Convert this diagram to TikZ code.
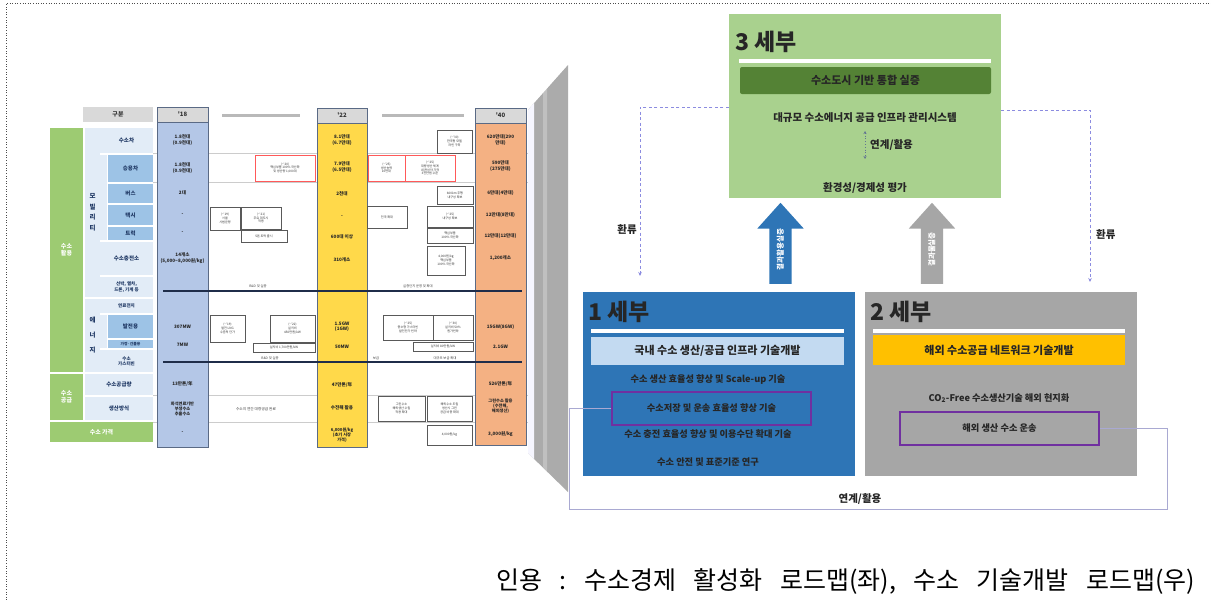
\documentclass[tikz,border=0pt]{standalone}
\usepackage{fontspec}
\newfontfamily\kr{Noto Sans CJK KR}
\usetikzlibrary{arrows.meta,shapes.arrows}
\definecolor{g3}{HTML}{A9D18E}
\definecolor{g3d}{HTML}{548235}
\definecolor{b1}{HTML}{2E75B6}
\definecolor{b1l}{HTML}{C3DAF1}
\definecolor{gr2}{HTML}{A6A6A6}
\definecolor{yel}{HTML}{FFC000}
\definecolor{purp}{HTML}{7030A0}
\definecolor{dashc}{HTML}{8C8CE0}
\definecolor{linkc}{HTML}{A9A9D2}
\definecolor{tgreen}{HTML}{9DCB72}
\definecolor{col18}{HTML}{B4C7E7}
\definecolor{col22}{HTML}{FFD94A}
\definecolor{col40}{HTML}{F4B183}
\definecolor{hdr}{HTML}{D9D9D9}
\definecolor{cellL}{HTML}{E2ECF7}
\definecolor{cellM}{HTML}{9DC3E6}
\definecolor{navyT}{HTML}{1F3864}
\definecolor{colborder}{HTML}{5A6A85}
\definecolor{navyL}{HTML}{1F2D4A}
\definecolor{trapg}{HTML}{ABABAB}
\newcommand\fs[2]{\fontsize{#1}{#2}\selectfont}
\newcommand\tld{\textasciitilde}
\newcommand\wsp{\hspace{0.7em}}
\newcommand\mkbox[7][sbox]{\node[#1,minimum width={#5-#3},minimum height={#6-#4}] (#2) at ({(#3+#5)/2},{(#4+#6)/2}) {#7};}
\tikzset{
 sbox/.style={draw=gray!70!black, line width=0.35pt, fill=white, inner sep=0.3pt, align=center, font=\kr\fs{3.1}{3.7}, text=black!80},
 rbox/.style={sbox, draw=red!65},
 dat/.style={font=\kr\bfseries\fs{4.6}{5.4}, align=center, text=black!85, inner sep=0},
 tiny/.style={font=\kr\fs{3.3}{3.8}, align=center, text=black!75, inner sep=0},
 lcell/.style={fill=cellL, inner sep=0, align=center, font=\kr\bfseries\fs{5.5}{6.5}, text=navyT},
 mcell/.style={fill=cellM, inner sep=0, align=center, font=\kr\bfseries\fs{5.5}{6.5}, text=navyT},
 gcell/.style={fill=tgreen, inner sep=0, align=center, font=\kr\bfseries\fs{6}{7.5}, text=white},
 hcell/.style={fill=hdr, inner sep=0, font=\kr\bfseries\fs{6}{6}, text=black!80},
 colbody/.style={draw=colborder, line width=0.8pt, inner sep=0},
 colhead/.style={colbody, fill=hdr, font=\kr\bfseries\fs{6}{6}, text=black!80},
 tline/.style={draw=gray!40, line width=0.4pt},
 bline/.style={draw=navyL, line width=1.3pt},
 bigbox/.style={inner sep=0, minimum width=272pt, minimum height=184pt},
 sehead/.style={anchor=west, inner sep=0, font=\kr\bfseries\fs{23}{23}, text=black!85},
 bar/.style={inner sep=0, font=\kr\bfseries\fs{11}{11}, text=black!85},
 btxt/.style={inner sep=0, font=\kr\bfseries\fs{9.2}{9.2}, text=black!85},
 gtxt/.style={inner sep=0, font=\kr\bfseries\fs{10.5}{10.5}, text=black!85},
 pbox/.style={draw=purp, line width=1.2pt, inner sep=0, minimum width=199pt, minimum height=33pt, font=\kr\bfseries\fs{9.2}{9.2}, text=black!85},
 uparrow/.style={single arrow, rotate=90, single arrow head extend=12pt, single arrow tip angle=84, minimum height=81pt, inner xsep=2pt, inner ysep=7pt, text height=6.5pt, text depth=1.5pt, font=\kr\bfseries\fs{7.5}{7.5}, text=white},
 dconn/.style={draw=dashc, line width=0.9pt, dash pattern=on 3pt off 2.5pt, -{Stealth[length=4pt,width=3.5pt]}},
 lconn/.style={draw=linkc, line width=0.9pt},
 lab/.style={inner sep=0, font=\kr\bfseries\fs{10.5}{10.5}, text=black!85},
 framedot/.style={draw=black!70, line width=0.6pt, dotted}
}
\begin{document}
\begin{tikzpicture}[x=1pt,y=-1pt]
\useasboundingbox (0,0) rectangle (1211,600);
\fill[white] (0,0) rectangle (1211,600);
\draw[framedot] (6,600) -- (6,3) -- (1211,3);

% ---------------- left roadmap table ----------------
\foreach \yy in {153,182,395,422} \draw[tline] (153,\yy) -- (528,\yy);
\draw[line width=3pt, gray!55] (222,115) -- (300,115);
\draw[line width=3pt, gray!55] (382,115) -- (464,115);

\mkbox[gcell]{gA}{50}{128}{83}{372}{수소\\활용}
\mkbox[gcell]{gB}{50}{374}{83}{420}{수소\\공급}
\mkbox[gcell,font={\kr\bfseries\fs{6}{6}}]{gC}{50}{422}{153}{442}{수소 가격}
\mkbox[hcell]{hG}{83}{107}{153}{122}{구분}
\mkbox[lcell,font={\kr\bfseries\fs{6.5}{10.5}}]{lMob}{85}{128}{100}{297}{모\\빌\\리\\티}
\mkbox[lcell,font={\kr\bfseries\fs{6.5}{15}}]{lEn}{85}{299}{100}{372}{에\\너\\지}
\mkbox[lcell]{rCar}{100}{128}{153}{153}{수소차}
\mkbox[lcell]{ind1}{100}{155}{107}{240}{}
\mkbox[mcell]{rPas}{108}{155}{153}{182}{승용차}
\mkbox[mcell]{rBus}{108}{184}{153}{203}{버스}
\mkbox[mcell]{rTaxi}{108}{205}{153}{225}{택시}
\mkbox[mcell]{rTruck}{108}{227}{153}{240}{트럭}
\mkbox[lcell]{rSt}{100}{242}{153}{275}{수소충전소}
\mkbox[lcell,font={\kr\bfseries\fs{4.5}{5.3}}]{rEtc}{100}{277}{153}{297}{선박, 열차,\\드론, 기계 등}
\mkbox[lcell,font={\kr\bfseries\fs{4.5}{5}}]{rFC}{100}{299}{153}{313}{연료전지}
\mkbox[lcell]{ind2}{100}{315}{107}{348}{}
\mkbox[mcell]{rPow}{108}{315}{153}{338}{발전용}
\mkbox[mcell,font={\kr\bfseries\fs{3.8}{4}}]{rHome}{108}{340}{153}{348}{가정·건물용}
\mkbox[lcell,font={\kr\bfseries\fs{4.5}{5.2}}]{rGT}{100}{350}{153}{372}{수소\\가스터빈}
\mkbox[lcell]{rSup}{85}{374}{153}{395}{수소공급량}
\mkbox[lcell]{rProd}{85}{397}{153}{420}{생산방식}

\mkbox[colbody,fill=col18]{c18}{157}{122}{208}{447}{}
\mkbox[colhead]{h18}{157}{107}{208}{122}{'18}
\mkbox[colbody,fill=col22]{c22}{317}{123}{367}{447}{}
\mkbox[colhead]{h22}{317}{108}{367}{123}{'22}
\mkbox[colbody,fill=col40]{c40}{475}{123}{526}{445}{}
\mkbox[colhead]{h40}{475}{108}{526}{123}{'40}

\node[dat] (d18a) at (182.5,140) {1.8천대\\(0.9천대)};
\node[dat] (d18b) at (182.5,168) {1.8천대\\(0.9천대)};
\node[dat] (d18c) at (182.5,193) {2대};
\node[dat] (d18d) at (182.5,215) {-};
\node[dat] (d18e) at (182.5,233) {-};
\node[dat] (d18f) at (182.5,258) {14개소\\(5,000\tld8,000원/kg)};
\node[dat] (d18g) at (182.5,327) {307MW};
\node[dat] (d18h) at (182.5,345) {7MW};
\node[dat] (d18i) at (182.5,384) {13만톤/年};
\node[dat,font={\kr\bfseries\fs{4.2}{5}}] (d18j) at (182.5,409) {화석연료기반\\부생수소\\추출수소};
\node[dat] (d18k) at (182.5,433) {-};

\node[dat] (d22a) at (342,140) {8.1만대\\(6.7만대)};
\node[dat] (d22b) at (342,167) {7.9만대\\(6.5만대)};
\node[dat] (d22c) at (342,194) {2천대};
\node[dat] (d22d) at (342,217) {-};
\node[dat] (d22e) at (342,237) {600대 이상};
\node[dat] (d22f) at (342,260) {310개소};
\node[dat] (d22g) at (342,327) {1.5GW\\(1GW)};
\node[dat] (d22h) at (342,347) {50MW};
\node[dat] (d22i) at (342,385) {47만톤/年};
\node[dat] (d22j) at (342,408) {수전해 활용};
\node[dat,font={\kr\bfseries\fs{4.2}{5}}] (d22k) at (342,435) {6,000원/kg\\(초기 시장\\가격)};

\node[dat] (d40a) at (500.5,140) {620만대(290\\만대)};
\node[dat] (d40b) at (500.5,166) {590만대\\(275만대)};
\node[dat] (d40c) at (500.5,193) {6만대(4만대)};
\node[dat] (d40d) at (500.5,215) {12만대(8만대)};
\node[dat] (d40e) at (500.5,236) {12만대(12만대)};
\node[dat] (d40f) at (500.5,258) {1,200개소};
\node[dat] (d40g) at (500.5,327) {15GW(8GW)};
\node[dat] (d40h) at (500.5,347) {2.1GW};
\node[dat] (d40i) at (500.5,384) {526만톤/年};
\node[dat,font={\kr\bfseries\fs{4.2}{5}}] (d40j) at (500.5,406) {그린수소 활용\\(수전해,\\해외생산)};
\node[dat] (d40k) at (500.5,434) {3,000원/kg};

\draw[bline] (163,291) -- (522,291);
\draw[bline] (163,362) -- (522,362);
\node[tiny] (lb1) at (258,286) {R\&D 및 실증};
\node[tiny] (lb2) at (418,286) {실증단지 운영 및 확대};
\node[tiny] (lb3) at (270,358) {R\&D 및 실증};
\node[tiny] (lb4) at (376,358) {보급};
\node[tiny] (lb5) at (445,358) {대규모 보급 확대};
\node[tiny,font={\kr\fs{3.7}{4}}] (lb6) at (256,409) {수소의 연간 대량공급 완료};

\mkbox[rbox]{bx1}{255}{155}{315}{181}{(\tld'20)\\핵심부품 100\% 국산화\\및 생산량 1,000대}
\mkbox{bx2}{210}{207}{240}{230}{(\tld'19)\\서울\\시범운영}
\mkbox{bx3}{241}{207}{281}{229}{(\tld'21)\\주요 대도시\\적용}
\mkbox{bx4}{241}{230}{287}{242}{5톤 트럭 출시}
\mkbox{bx5}{210}{315}{245}{342}{(\tld'19)\\발전 LNG\\수준의 단가}
\mkbox{bx6}{270}{315}{315}{342}{(\tld'22)\\설치비\\450만원/kW}
\mkbox{bx7}{253}{343}{315}{352}{설치비 1,700만원/kW}
\mkbox{bx8}{437}{130}{472}{153}{(\tld'30)\\한국형 모델\\라인 구축}
\mkbox[rbox]{bx9}{368}{155}{405}{181}{(\tld'25)\\생산능력\\10만대}
\mkbox[rbox]{bx10}{405}{155}{455}{181}{(\tld'25)\\대량생산 체계\\내 완성차 가격\\3천만원 수준}
\mkbox{bx11}{437}{186}{473}{204}{600km 주행\\내구성 확보}
\mkbox{bx12}{367}{206}{407}{228}{전국 확대}
\mkbox{bx13}{427}{206}{473}{227}{(\tld'25)\\내구성 확보}
\mkbox{bx14}{427}{228}{473}{243}{핵심부품\\100\% 국산화}
\mkbox{bx15}{427}{246}{465}{275}{4,000원/kg\\핵심부품\\100\% 국산화}
\mkbox{bx16}{383}{315}{433}{340}{(\tld'25)\\중소형 가스터빈\\발전단가 인하}
\mkbox{bx17}{433}{315}{473}{340}{(\tld'30)\\설치비 50\%\\원가인하}
\mkbox{bx18}{413}{342}{473}{351}{설치비 80만원/kW}
\mkbox{bx19}{378}{396}{425}{421}{그린수소\\해외생산 수입\\적용 확대}
\mkbox{bx20}{427}{396}{472}{421}{해외수소 도입\\생산시 그린\\공급 비중 확대}
\mkbox{bx21}{427}{425}{472}{445}{4,000원/kg}

% ---------------- grey trapezoid ----------------
\fill[trapg] (528,110) -- (568,65) -- (568,492) -- (528,453) -- cycle;
\fill[white!75!blue!15] (528,110) -- (534,103) -- (534,459) -- (528,453) -- cycle;
\fill[white, opacity=0.25] (543,93) -- (547,88) -- (547,472) -- (543,467) -- cycle;

% ---------------- right: 3 sebu ----------------
\node[bigbox, fill=g3] (s3) at (865,106) {};
\node[sehead] (s3t) at (735,42) {3 세부};
\node[fill=white, inner sep=0, minimum width=252pt, minimum height=4pt] (s3l) at (865,60.5) {};
\node[bar, fill=g3d, rounded corners=2pt, minimum width=251pt, minimum height=27pt] (s3b) at (865.5,80.5) {수소도시 기반 통합 실증};
\node[gtxt] (s3a) at (865,118) {대규모 수소에너지 공급 인프라 관리시스템};
\node[gtxt] (s3c) at (865,188) {환경성/경제성 평가};
\coordinate (la) at (865,131);
\coordinate (lb) at (865,159);
\draw[draw=navyT!70, line width=0.8pt, dotted, {Stealth[length=3pt,width=3pt]}-{Stealth[length=3pt,width=3pt]}] (la) -- (lb);
\node[gtxt, anchor=west] (s3k) at (870,145) {연계/활용};

% ---------------- 1 sebu ----------------
\node[bigbox, fill=b1] (s1) at (719,384) {};
\node[sehead] (s1t) at (588,312) {1 세부};
\node[fill=white, inner sep=0, minimum width=253pt, minimum height=4pt] (s1l) at (717.5,331) {};
\node[bar, fill=b1l, minimum width=253pt, minimum height=28pt] (s1b) at (717.5,351) {국내 수소 생산/공급 인프라 기술개발};
\node[btxt] (s1a) at (708,380) {수소 생산 효율성 향상 및 Scale-up 기술};
\node[pbox] (p1) at (711.5,408.5) {수소저장 및 운송 효율성 향상 기술};
\node[btxt] (s1c) at (708,434) {수소 충전 효율성 향상 및 이용수단 확대 기술};
\node[btxt] (s1d) at (708,462) {수소 안전 및 표준기준 연구};

% ---------------- 2 sebu ----------------
\node[bigbox, fill=gr2] (s2) at (1001,384) {};
\node[sehead] (s2t) at (870,312) {2 세부};
\node[fill=white, inner sep=0, minimum width=252pt, minimum height=4pt] (s2l) at (999,331) {};
\node[bar, fill=yel, minimum width=252pt, minimum height=30pt] (s2b) at (999,350) {해외 수소공급 네트워크 기술개발};
\node[btxt] (s2a) at (999,398) {CO\textsubscript{2}-Free 수소생산기술 해외 현지화};
\node[pbox] (p2) at (999.5,428.5) {해외 생산 수소 운송};

% ---------------- arrows ----------------
\node[uparrow, fill=b1] (ar1) at (780.5,249.5) {결과활용실증};
\node[uparrow, fill=gr2] (ar2) at (932,249.5) {결과물실증};

\coordinate (h1) at (640,107);
\coordinate (e1) at (640,276);
\draw[dconn] (s3.west |- h1) -- (h1) -- (e1);
\node[lab, anchor=east] (hw1) at (637,230) {환류};
\coordinate (h2) at (1090,110);
\coordinate (e2) at (1090,282);
\draw[dconn] (s3.east |- h2) -- (h2) -- (e2);
\node[lab, anchor=west] (hw2) at (1096,235) {환류};

\coordinate (f1) at (569,509);
\coordinate (f2) at (1167,509);
\draw[lconn] (p1.west) -| (f1) -- (f2) |- (p2.east);
\node[lab, fill=white, inner sep=1pt] (lk) at (860,499) {연계/활용};

% ---------------- caption ----------------
\node[anchor=west, inner sep=0, font=\kr\fs{25}{25}, text=black] (cap) at (496,582) {인용\wsp{}:\wsp{}수소경제\wsp{}활성화\wsp{}로드맵(좌),\wsp{}수소\wsp{}기술개발\wsp{}로드맵(우)};
\end{tikzpicture}
\end{document}
